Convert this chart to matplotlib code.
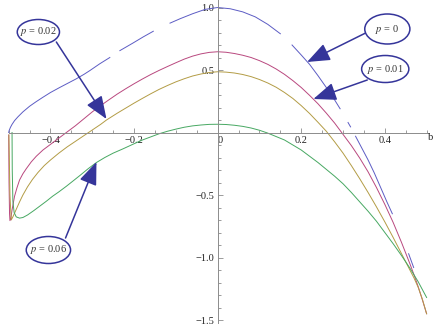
import numpy as np
import matplotlib
matplotlib.use("Agg")
import matplotlib.pyplot as plt
import matplotlib.transforms as mtransforms
from matplotlib.patches import Ellipse
from matplotlib.ticker import MultipleLocator

plt.rcParams['font.family'] = ['Liberation Serif', 'DejaVu Serif']
plt.rcParams['mathtext.fontset'] = 'stix'

nan = np.nan

# p = 0 (broken curve, gaps as NaN)
b_p0 = [-0.5, -0.499, -0.496, -0.492, -0.486, -0.478, -0.466, -0.45, -0.435, -0.419, -0.40,
        -0.378, -0.358, -0.338, -0.32, -0.306, -0.282, -0.258,
        nan, -0.234, -0.203, -0.178, -0.154,
        nan, -0.114, -0.09, -0.06, -0.03, 0.0, 0.03, 0.06, 0.09, 0.12, 0.15,
        nan, 0.178, 0.20, 0.22, 0.24, 0.26, 0.28, 0.293,
        nan, 0.312, 0.318,
        nan, 0.33, 0.345, 0.36, 0.375, 0.39, 0.405, 0.418,
        nan, 0.457, 0.469]
y_p0 = [0.0, 0.015, 0.04, 0.065, 0.095, 0.125, 0.165, 0.21, 0.245, 0.28, 0.32,
        0.36, 0.395, 0.43, 0.465, 0.495, 0.55, 0.60,
        nan, 0.655, 0.715, 0.765, 0.81,
        nan, 0.875, 0.91, 0.95, 0.985, 1.0, 0.99, 0.965, 0.925, 0.865, 0.79,
        nan, 0.70, 0.62, 0.545, 0.455, 0.36, 0.26, 0.19,
        nan, 0.08, 0.045,
        nan, -0.03, -0.125, -0.22, -0.325, -0.44, -0.555, -0.65,
        nan, -0.97, -1.08]

# p = 0.01
b_p01 = [-0.5, -0.4992, -0.498, -0.497, -0.495, -0.492, -0.486, -0.48, -0.474, -0.466, -0.458,
         -0.446, -0.434, -0.418, -0.40, -0.38, -0.362, -0.34, -0.32, -0.30, -0.28, -0.26, -0.24,
         -0.22, -0.20, -0.18, -0.16, -0.14, -0.12, -0.10, -0.08, -0.06, -0.04, -0.02, 0.0,
         0.02, 0.04, 0.06, 0.08, 0.10, 0.12, 0.14, 0.16, 0.18, 0.20, 0.22, 0.24, 0.26, 0.28,
         0.30, 0.32, 0.34, 0.36, 0.38, 0.40, 0.42, 0.44, 0.46, 0.47, 0.48, 0.49, 0.5]
y_p01 = [-0.02, -0.4, -0.65, -0.705, -0.69, -0.62, -0.51, -0.44, -0.38, -0.33, -0.29,
         -0.235, -0.19, -0.14, -0.095, -0.045, 0.0, 0.055, 0.11, 0.165, 0.215, 0.262, 0.308,
         0.35, 0.39, 0.428, 0.464, 0.497, 0.528, 0.558, 0.587, 0.611, 0.629, 0.641, 0.646,
         0.642, 0.632, 0.618, 0.60, 0.575, 0.545, 0.508, 0.465, 0.415, 0.36, 0.297, 0.23,
         0.155, 0.075, -0.015, -0.105, -0.205, -0.315, -0.44, -0.575, -0.72, -0.88, -1.05,
         -1.14, -1.235, -1.34, -1.45]

# p = 0.02
b_p02 = [-0.4995, -0.497, -0.494, -0.49, -0.486, -0.48, -0.474, -0.466, -0.455, -0.443, -0.43,
         -0.415, -0.40, -0.38, -0.36, -0.34, -0.32, -0.30, -0.28, -0.266, -0.24, -0.22, -0.20,
         -0.18, -0.16, -0.14, -0.12, -0.10, -0.08, -0.06, -0.04, -0.02, 0.0,
         0.02, 0.04, 0.06, 0.08, 0.10, 0.12, 0.14, 0.16, 0.18, 0.20, 0.22, 0.24, 0.26, 0.28,
         0.30, 0.32, 0.34, 0.36, 0.38, 0.40, 0.42, 0.44, 0.46, 0.47, 0.48, 0.49, 0.5]
y_p02 = [-0.02, -0.5, -0.70, -0.675, -0.645, -0.60, -0.555, -0.50, -0.435, -0.375, -0.32,
         -0.265, -0.22, -0.165, -0.115, -0.07, -0.025, 0.02, 0.065, 0.10, 0.155, 0.195, 0.235,
         0.273, 0.31, 0.345, 0.376, 0.405, 0.43, 0.452, 0.468, 0.48, 0.486,
         0.483, 0.476, 0.464, 0.447, 0.424, 0.396, 0.362, 0.32, 0.272, 0.215, 0.152, 0.082,
         0.01, -0.075, -0.165, -0.265, -0.37, -0.48, -0.595, -0.715, -0.84, -0.97, -1.10,
         -1.165, -1.24, -1.335, -1.45]

# p = 0.06
b_p06 = [-0.492, -0.4915, -0.49, -0.487, -0.482, -0.474, -0.466, -0.455, -0.44, -0.426, -0.41,
         -0.395, -0.38, -0.362, -0.345, -0.33, -0.31, -0.29, -0.27, -0.25, -0.226, -0.20,
         -0.18, -0.16, -0.14, -0.12, -0.10, -0.08, -0.06, -0.04, -0.02, 0.0,
         0.02, 0.04, 0.06, 0.08, 0.10, 0.12, 0.16, 0.20, 0.24, 0.28, 0.30, 0.32, 0.34, 0.36,
         0.38, 0.40, 0.42, 0.44, 0.46, 0.48, 0.5]
y_p06 = [0.0, -0.3, -0.55, -0.64, -0.675, -0.685, -0.68, -0.66, -0.625, -0.59, -0.55,
         -0.51, -0.475, -0.43, -0.385, -0.345, -0.29, -0.24, -0.20, -0.165, -0.13, -0.09,
         -0.06, -0.035, -0.01, 0.01, 0.027, 0.042, 0.053, 0.06, 0.065, 0.066,
         0.064, 0.058, 0.049, 0.036, 0.018, -0.005, -0.06, -0.14, -0.24, -0.35, -0.41, -0.48,
         -0.555, -0.63, -0.71, -0.80, -0.89, -0.985, -1.085, -1.195, -1.32]

labels = ['$p$ = 0', '$p$ = 0.01', '$p$ = 0.02', '$p$ = 0.06']
colors = ['#5c5cc4', '#b9487f', '#b39c45', '#47a862']

fig = plt.figure(figsize=(4.36, 3.27), dpi=100)
ax = fig.add_axes([8.7 / 436, 4.5 / 327, 420 / 436, 322.5 / 327])
ax.set_xlim(-0.5, 0.505)
ax.set_ylim(-1.52, 1.06)

for bx, yy, c in zip([b_p0, b_p01, b_p02, b_p06], [y_p0, y_p01, y_p02, y_p06], colors):
    ax.plot(bx, yy, color=c, lw=0.7, clip_on=False)

# Mathematica-like axes through origin
for s in ['top', 'right']:
    ax.spines[s].set_visible(False)
ax.spines['left'].set_position(('data', 0))
ax.spines['bottom'].set_position(('data', 0))
for s in ['left', 'bottom']:
    ax.spines[s].set_color('#8c8c8c')
    ax.spines[s].set_linewidth(0.7)

ax.set_xticks([-0.4, -0.2, 0, 0.2, 0.4])
ax.set_xticklabels(['\u22120.4', '\u22120.2', '0', '0.2', '0.4'])
ax.xaxis.set_minor_locator(MultipleLocator(0.05))
ax.set_yticks([-1.5, -1.0, -0.5, 0.5, 1.0])
ax.set_yticklabels(['\u22121.5', '\u22121.0', '\u22120.5', '0.5', '1.0'])
ax.yaxis.set_minor_locator(MultipleLocator(0.1))
ax.tick_params(which='both', direction='in', color='#8c8c8c', width=0.6,
               labelsize=7.5, labelcolor='#222222')
ax.tick_params(which='major', length=3.5, pad=2.5)
ax.tick_params(which='minor', length=2)
ax.patch.set_alpha(0)

# the "0" label sits just right of the vertical axis
zero_lbl = ax.get_xticklabels()[2]
zero_lbl.set_transform(zero_lbl.get_transform() +
                       mtransforms.ScaledTranslation(3 / 100, 0, fig.dpi_scale_trans))

ax.text(0.51, -0.036, 'b', fontsize=7.5, ha='center', va='center', color='#222222',
        clip_on=False)

# callouts: (label index, ellipse centre, width, height, arrow start, arrow tip)
navy = '#35359a'
callouts = [
    (0, (0.406, 0.828), 0.108, 0.24, (0.354, 0.796), (0.214, 0.564)),
    (1, (0.401, 0.508), 0.113, 0.216, (0.358, 0.42), (0.229, 0.268)),
    (2, (-0.429, 0.804), 0.101, 0.20, (-0.386, 0.724), (-0.266, 0.108)),
    (3, (-0.405, -0.94), 0.106, 0.216, (-0.364, -0.844), (-0.29, -0.236)),
]
for i, ctr, w, h, start, tip in callouts:
    ax.add_patch(Ellipse(ctr, w, h, facecolor='white', edgecolor=navy, lw=1.1, zorder=5))
    ax.text(ctr[0], ctr[1], labels[i], fontsize=7.5, ha='center', va='center',
            color='#333333', zorder=6)
    ax.annotate('', xy=tip, xytext=start,
                arrowprops=dict(arrowstyle='-|>,head_length=1.4,head_width=0.55',
                                color=navy, lw=1.1, shrinkA=0, shrinkB=0),
                zorder=4)

fig.savefig('out.png', dpi=100)
